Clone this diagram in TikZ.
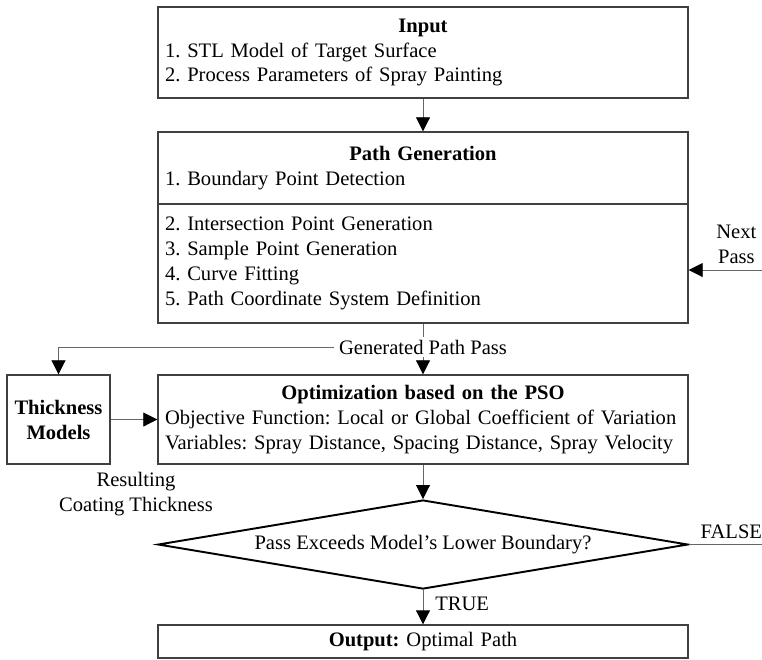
\documentclass[tikz,border=0pt]{standalone}
\usepackage{fontspec}
\setmainfont{Liberation Serif}
\usetikzlibrary{arrows.meta,positioning,shapes.geometric}
\frenchspacing

\begin{document}
\begin{tikzpicture}[
  font=\fontsize{11.7}{14.2}\selectfont,
  box/.style={draw=black!75, line width=0.8pt, align=left, text width=10.32cm,
    inner xsep=0.14cm, inner ysep=0pt, minimum height=#1},
  decision/.style={diamond, draw=black, line width=1.1pt, aspect=6,
    minimum width=10.6cm, minimum height=1.78cm, inner sep=0pt},
  link/.style={draw=black!60, line width=0.5pt},
  flow/.style={link, -{Triangle[length=0.28cm, width=0.28cm, color=black]}}
]
  \useasboundingbox (0,0) rectangle (15.24,-13.18);
  % boxes of the main column
  \node[box=1.82cm] (input) at (8.46,-1.05)
    {{\centering\bfseries Input\par}1. STL Model of Target Surface\\2. Process Parameters of Spray Painting};
  \node[box=1.44cm] (pgtop) at (8.46,-3.36)
    {{\centering\bfseries Path Generation\par}1. Boundary Point Detection};
  \node[box=2.38cm] (pgbot) at (8.46,-5.27)
    {2. Intersection Point Generation\\3. Sample Point Generation\\4. Curve Fitting\\5. Path Coordinate System Definition};
  \node[inner xsep=2.8pt, inner ysep=1.5pt] (gen) at (8.46,-6.94) {Generated Path Pass};
  \node[box=1.78cm] (opt) at (8.46,-8.39)
    {{\centering\bfseries Optimization based on the PSO\par}Objective Function: Local or Global Coefficient of Variation\\Variables: Spray Distance, Spacing Distance, Spray Velocity};
  \node[draw=black!75, line width=0.8pt, align=center, font=\fontsize{11.7}{14.2}\selectfont\bfseries,
    minimum width=2.06cm, minimum height=1.78cm, inner sep=0pt] (thick) at (1.17,-8.39) {Thickness\\Models};
  \node[align=center] (result) at (2.72,-9.88) {Resulting\\Coating Thickness};
  \node[decision] (check) at (8.46,-10.89) {Pass Exceeds Model's Lower Boundary?};
  \node[box=0.66cm, align=center] (output) at (8.46,-12.83) {\textbf{Output:} Optimal Path};
  \coordinate (nextin) at (15.24,-5.40);
  \coordinate (falseout) at (15.24,-10.89);
  % connectors
  \draw[flow] (input) -- (pgtop);
  \draw[link] (pgbot) -- (gen);
  \draw[flow] (gen) -- (opt);
  \draw[flow] (gen.west) -| (thick);
  \draw[flow] (thick) -- (opt);
  \draw[flow] (opt) -- (check);
  \draw[flow] (check) -- node[right=0.12cm, pos=0.4] {TRUE} (output);
  \draw[link] (check) -- node[above, pos=0.58] {FALSE} (falseout);
  \draw[flow] (nextin) -- node[above, pos=0.35, align=center] {Next\\Pass} (nextin -| pgbot.east);
\end{tikzpicture}
\end{document}
